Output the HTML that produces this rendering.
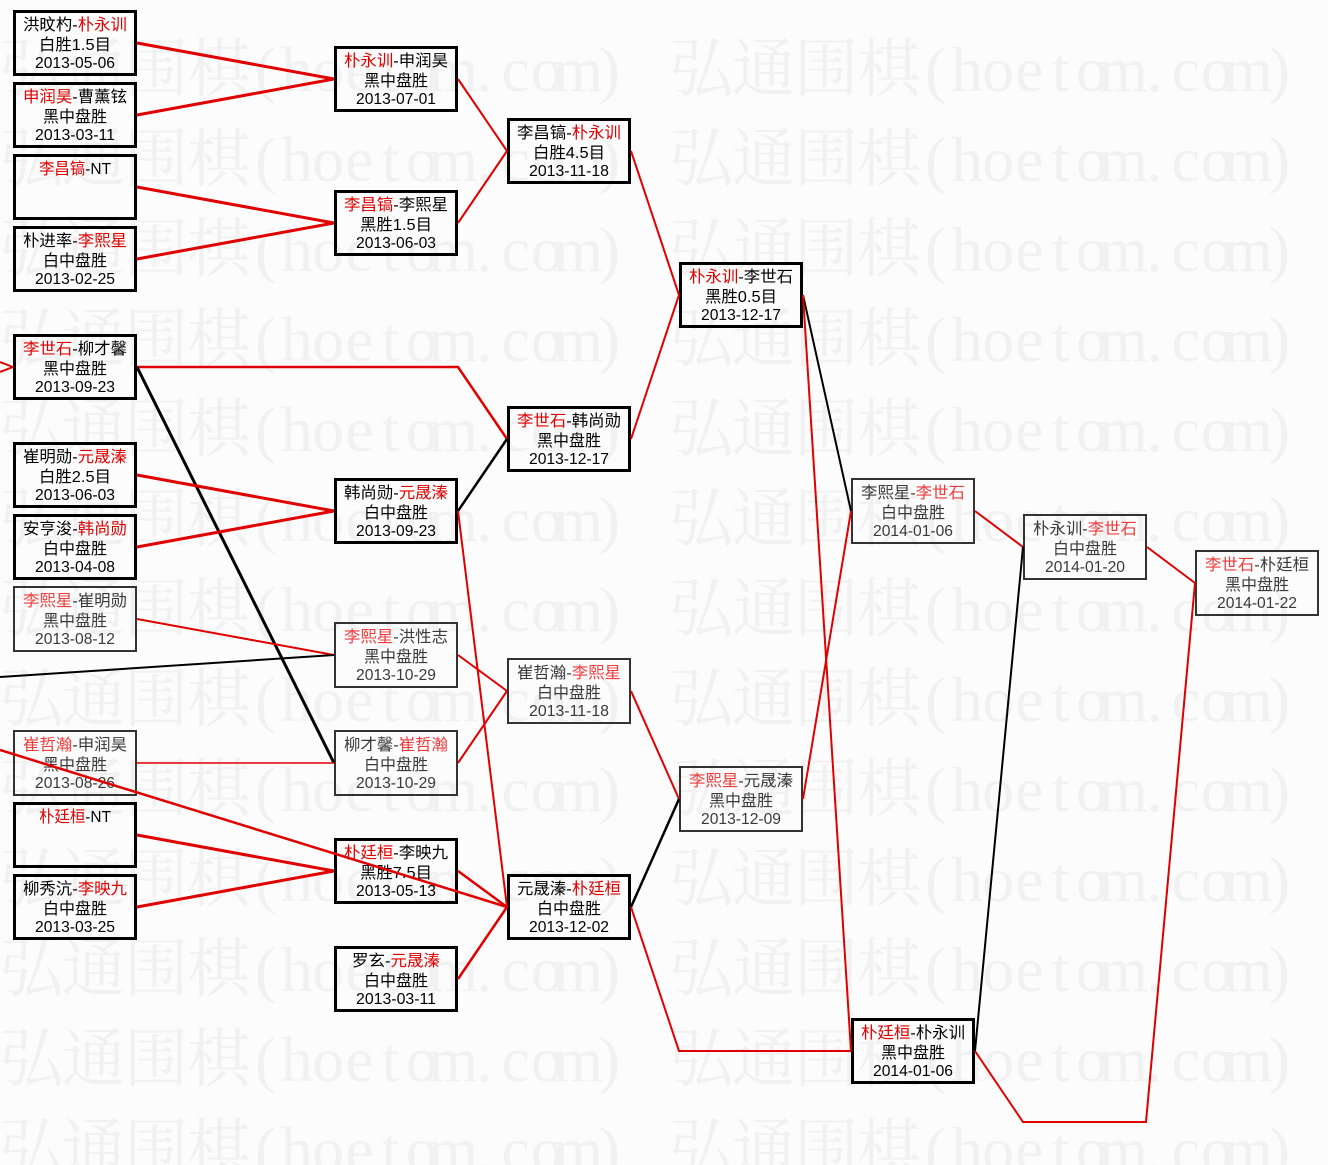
<!DOCTYPE html>
<html>
<head>
<meta charset="utf-8">
<style>
html,body{margin:0;padding:0;background:#fcfcfc;}
body{width:1328px;height:1165px;overflow:hidden;}
svg{display:block;}
.wm{font-family:"Liberation Serif","Noto Serif CJK SC",serif;font-size:64px;fill:#f1f1f1;}
.bx{font-family:"Liberation Sans","Noto Sans CJK SC",sans-serif;font-size:16px;}
.k{fill:#000;}
.g{fill:#3a3a3a;}
.r{fill:#e00000;}
.rl{fill:#ee3b3b;}
</style>
</head>
<body>
<svg width="1328" height="1165" viewBox="0 0 1328 1165" xmlns="http://www.w3.org/2000/svg">
<rect x="0" y="0" width="1328" height="1165" fill="#fcfcfc"/>
<g class="wm" text-anchor="middle">
<text y="91" x="31.25 93.75 156.25 218.75 265.6 296.9 328.1 359.4 390.6 421.9 453.1 484.4 515.6 546.9 578.1 609.4 701.25 763.75 826.25 888.75 935.6 966.9 998.1 1029.4 1060.6 1091.9 1123.1 1154.4 1185.6 1216.9 1248.1 1279.4">弘通围棋(hoetom.com)弘通围棋(hoetom.com)</text>
<text y="181" x="31.25 93.75 156.25 218.75 265.6 296.9 328.1 359.4 390.6 421.9 453.1 484.4 515.6 546.9 578.1 609.4 701.25 763.75 826.25 888.75 935.6 966.9 998.1 1029.4 1060.6 1091.9 1123.1 1154.4 1185.6 1216.9 1248.1 1279.4">弘通围棋(hoetom.com)弘通围棋(hoetom.com)</text>
<text y="271" x="31.25 93.75 156.25 218.75 265.6 296.9 328.1 359.4 390.6 421.9 453.1 484.4 515.6 546.9 578.1 609.4 701.25 763.75 826.25 888.75 935.6 966.9 998.1 1029.4 1060.6 1091.9 1123.1 1154.4 1185.6 1216.9 1248.1 1279.4">弘通围棋(hoetom.com)弘通围棋(hoetom.com)</text>
<text y="361" x="31.25 93.75 156.25 218.75 265.6 296.9 328.1 359.4 390.6 421.9 453.1 484.4 515.6 546.9 578.1 609.4 701.25 763.75 826.25 888.75 935.6 966.9 998.1 1029.4 1060.6 1091.9 1123.1 1154.4 1185.6 1216.9 1248.1 1279.4">弘通围棋(hoetom.com)弘通围棋(hoetom.com)</text>
<text y="451" x="31.25 93.75 156.25 218.75 265.6 296.9 328.1 359.4 390.6 421.9 453.1 484.4 515.6 546.9 578.1 609.4 701.25 763.75 826.25 888.75 935.6 966.9 998.1 1029.4 1060.6 1091.9 1123.1 1154.4 1185.6 1216.9 1248.1 1279.4">弘通围棋(hoetom.com)弘通围棋(hoetom.com)</text>
<text y="541" x="31.25 93.75 156.25 218.75 265.6 296.9 328.1 359.4 390.6 421.9 453.1 484.4 515.6 546.9 578.1 609.4 701.25 763.75 826.25 888.75 935.6 966.9 998.1 1029.4 1060.6 1091.9 1123.1 1154.4 1185.6 1216.9 1248.1 1279.4">弘通围棋(hoetom.com)弘通围棋(hoetom.com)</text>
<text y="631" x="31.25 93.75 156.25 218.75 265.6 296.9 328.1 359.4 390.6 421.9 453.1 484.4 515.6 546.9 578.1 609.4 701.25 763.75 826.25 888.75 935.6 966.9 998.1 1029.4 1060.6 1091.9 1123.1 1154.4 1185.6 1216.9 1248.1 1279.4">弘通围棋(hoetom.com)弘通围棋(hoetom.com)</text>
<text y="721" x="31.25 93.75 156.25 218.75 265.6 296.9 328.1 359.4 390.6 421.9 453.1 484.4 515.6 546.9 578.1 609.4 701.25 763.75 826.25 888.75 935.6 966.9 998.1 1029.4 1060.6 1091.9 1123.1 1154.4 1185.6 1216.9 1248.1 1279.4">弘通围棋(hoetom.com)弘通围棋(hoetom.com)</text>
<text y="811" x="31.25 93.75 156.25 218.75 265.6 296.9 328.1 359.4 390.6 421.9 453.1 484.4 515.6 546.9 578.1 609.4 701.25 763.75 826.25 888.75 935.6 966.9 998.1 1029.4 1060.6 1091.9 1123.1 1154.4 1185.6 1216.9 1248.1 1279.4">弘通围棋(hoetom.com)弘通围棋(hoetom.com)</text>
<text y="901" x="31.25 93.75 156.25 218.75 265.6 296.9 328.1 359.4 390.6 421.9 453.1 484.4 515.6 546.9 578.1 609.4 701.25 763.75 826.25 888.75 935.6 966.9 998.1 1029.4 1060.6 1091.9 1123.1 1154.4 1185.6 1216.9 1248.1 1279.4">弘通围棋(hoetom.com)弘通围棋(hoetom.com)</text>
<text y="991" x="31.25 93.75 156.25 218.75 265.6 296.9 328.1 359.4 390.6 421.9 453.1 484.4 515.6 546.9 578.1 609.4 701.25 763.75 826.25 888.75 935.6 966.9 998.1 1029.4 1060.6 1091.9 1123.1 1154.4 1185.6 1216.9 1248.1 1279.4">弘通围棋(hoetom.com)弘通围棋(hoetom.com)</text>
<text y="1081" x="31.25 93.75 156.25 218.75 265.6 296.9 328.1 359.4 390.6 421.9 453.1 484.4 515.6 546.9 578.1 609.4 701.25 763.75 826.25 888.75 935.6 966.9 998.1 1029.4 1060.6 1091.9 1123.1 1154.4 1185.6 1216.9 1248.1 1279.4">弘通围棋(hoetom.com)弘通围棋(hoetom.com)</text>
<text y="1171" x="31.25 93.75 156.25 218.75 265.6 296.9 328.1 359.4 390.6 421.9 453.1 484.4 515.6 546.9 578.1 609.4 701.25 763.75 826.25 888.75 935.6 966.9 998.1 1029.4 1060.6 1091.9 1123.1 1154.4 1185.6 1216.9 1248.1 1279.4">弘通围棋(hoetom.com)弘通围棋(hoetom.com)</text>
</g>

<!-- boxes -->
<g fill="none" stroke="#000" stroke-width="3">
<rect x="14.5" y="11.5" width="121" height="63"/>
<rect x="14.5" y="83.5" width="121" height="63"/>
<rect x="14.5" y="155.5" width="121" height="63"/>
<rect x="14.5" y="227.5" width="121" height="63"/>
<rect x="14.5" y="335.5" width="121" height="63"/>
<rect x="14.5" y="443.5" width="121" height="63"/>
<rect x="14.5" y="515.5" width="121" height="63"/>
<rect x="14.5" y="803.5" width="121" height="63"/>
<rect x="14.5" y="875.5" width="121" height="63"/>
<rect x="335.5" y="47.5" width="121" height="63"/>
<rect x="335.5" y="191.5" width="121" height="63"/>
<rect x="335.5" y="479.5" width="121" height="63"/>
<rect x="335.5" y="839.5" width="121" height="63"/>
<rect x="335.5" y="947.5" width="121" height="63"/>
<rect x="508.5" y="119.5" width="121" height="63"/>
<rect x="508.5" y="407.5" width="121" height="63"/>
<rect x="508.5" y="875.5" width="121" height="63"/>
<rect x="680.5" y="263.5" width="121" height="63"/>
<rect x="852.5" y="1019.5" width="121" height="63"/>
</g>
<g fill="none" stroke="#333" stroke-width="2">
<rect x="14" y="587" width="122" height="64"/>
<rect x="14" y="731" width="122" height="64"/>
<rect x="335" y="623" width="122" height="64"/>
<rect x="335" y="731" width="122" height="64"/>
<rect x="508" y="659" width="122" height="64"/>
<rect x="680" y="767" width="122" height="64"/>
<rect x="852" y="479" width="122" height="64"/>
<rect x="1024" y="515" width="122" height="64"/>
<rect x="1196" y="551" width="122" height="64"/>
</g>

<!-- text: thick boxes -->
<g class="bx k">
<text x="23" y="30" textLength="104" lengthAdjust="spacingAndGlyphs">洪旼杓-<tspan class="r">朴永训</tspan></text>
<text x="39" y="50" textLength="72" lengthAdjust="spacingAndGlyphs">白胜1.5目</text>
<text x="35" y="68" textLength="80" lengthAdjust="spacingAndGlyphs">2013-05-06</text>

<text x="23" y="102" textLength="104" lengthAdjust="spacingAndGlyphs"><tspan class="r">申润昊</tspan>-曹薰铉</text>
<text x="43" y="122" textLength="64" lengthAdjust="spacingAndGlyphs">黑中盘胜</text>
<text x="35" y="140" textLength="80" lengthAdjust="spacingAndGlyphs">2013-03-11</text>

<text x="39" y="174" textLength="72" lengthAdjust="spacingAndGlyphs"><tspan class="r">李昌镐</tspan>-NT</text>

<text x="23" y="246" textLength="104" lengthAdjust="spacingAndGlyphs">朴进率-<tspan class="r">李熙星</tspan></text>
<text x="43" y="266" textLength="64" lengthAdjust="spacingAndGlyphs">白中盘胜</text>
<text x="35" y="284" textLength="80" lengthAdjust="spacingAndGlyphs">2013-02-25</text>

<text x="23" y="354" textLength="104" lengthAdjust="spacingAndGlyphs"><tspan class="r">李世石</tspan>-柳才馨</text>
<text x="43" y="374" textLength="64" lengthAdjust="spacingAndGlyphs">黑中盘胜</text>
<text x="35" y="392" textLength="80" lengthAdjust="spacingAndGlyphs">2013-09-23</text>

<text x="23" y="462" textLength="104" lengthAdjust="spacingAndGlyphs">崔明勋-<tspan class="r">元晟溱</tspan></text>
<text x="39" y="482" textLength="72" lengthAdjust="spacingAndGlyphs">白胜2.5目</text>
<text x="35" y="500" textLength="80" lengthAdjust="spacingAndGlyphs">2013-06-03</text>

<text x="23" y="534" textLength="104" lengthAdjust="spacingAndGlyphs">安亨浚-<tspan class="r">韩尚勋</tspan></text>
<text x="43" y="554" textLength="64" lengthAdjust="spacingAndGlyphs">白中盘胜</text>
<text x="35" y="572" textLength="80" lengthAdjust="spacingAndGlyphs">2013-04-08</text>

<text x="39" y="822" textLength="72" lengthAdjust="spacingAndGlyphs"><tspan class="r">朴廷桓</tspan>-NT</text>

<text x="23" y="894" textLength="104" lengthAdjust="spacingAndGlyphs">柳秀沆-<tspan class="r">李映九</tspan></text>
<text x="43" y="914" textLength="64" lengthAdjust="spacingAndGlyphs">白中盘胜</text>
<text x="35" y="932" textLength="80" lengthAdjust="spacingAndGlyphs">2013-03-25</text>

<text x="344" y="66" textLength="104" lengthAdjust="spacingAndGlyphs"><tspan class="r">朴永训</tspan>-申润昊</text>
<text x="364" y="86" textLength="64" lengthAdjust="spacingAndGlyphs">黑中盘胜</text>
<text x="356" y="104" textLength="80" lengthAdjust="spacingAndGlyphs">2013-07-01</text>

<text x="344" y="210" textLength="104" lengthAdjust="spacingAndGlyphs"><tspan class="r">李昌镐</tspan>-李熙星</text>
<text x="360" y="230" textLength="72" lengthAdjust="spacingAndGlyphs">黑胜1.5目</text>
<text x="356" y="248" textLength="80" lengthAdjust="spacingAndGlyphs">2013-06-03</text>

<text x="344" y="498" textLength="104" lengthAdjust="spacingAndGlyphs">韩尚勋-<tspan class="r">元晟溱</tspan></text>
<text x="364" y="518" textLength="64" lengthAdjust="spacingAndGlyphs">白中盘胜</text>
<text x="356" y="536" textLength="80" lengthAdjust="spacingAndGlyphs">2013-09-23</text>

<text x="344" y="858" textLength="104" lengthAdjust="spacingAndGlyphs"><tspan class="r">朴廷桓</tspan>-李映九</text>
<text x="360" y="878" textLength="72" lengthAdjust="spacingAndGlyphs">黑胜7.5目</text>
<text x="356" y="896" textLength="80" lengthAdjust="spacingAndGlyphs">2013-05-13</text>

<text x="352" y="966" textLength="88" lengthAdjust="spacingAndGlyphs">罗玄-<tspan class="r">元晟溱</tspan></text>
<text x="364" y="986" textLength="64" lengthAdjust="spacingAndGlyphs">白中盘胜</text>
<text x="356" y="1004" textLength="80" lengthAdjust="spacingAndGlyphs">2013-03-11</text>

<text x="517" y="138" textLength="104" lengthAdjust="spacingAndGlyphs">李昌镐-<tspan class="r">朴永训</tspan></text>
<text x="533" y="158" textLength="72" lengthAdjust="spacingAndGlyphs">白胜4.5目</text>
<text x="529" y="176" textLength="80" lengthAdjust="spacingAndGlyphs">2013-11-18</text>

<text x="517" y="426" textLength="104" lengthAdjust="spacingAndGlyphs"><tspan class="r">李世石</tspan>-韩尚勋</text>
<text x="537" y="446" textLength="64" lengthAdjust="spacingAndGlyphs">黑中盘胜</text>
<text x="529" y="464" textLength="80" lengthAdjust="spacingAndGlyphs">2013-12-17</text>

<text x="517" y="894" textLength="104" lengthAdjust="spacingAndGlyphs">元晟溱-<tspan class="r">朴廷桓</tspan></text>
<text x="537" y="914" textLength="64" lengthAdjust="spacingAndGlyphs">白中盘胜</text>
<text x="529" y="932" textLength="80" lengthAdjust="spacingAndGlyphs">2013-12-02</text>

<text x="689" y="282" textLength="104" lengthAdjust="spacingAndGlyphs"><tspan class="r">朴永训</tspan>-李世石</text>
<text x="705" y="302" textLength="72" lengthAdjust="spacingAndGlyphs">黑胜0.5目</text>
<text x="701" y="320" textLength="80" lengthAdjust="spacingAndGlyphs">2013-12-17</text>

<text x="861" y="1038" textLength="104" lengthAdjust="spacingAndGlyphs"><tspan class="r">朴廷桓</tspan>-朴永训</text>
<text x="881" y="1058" textLength="64" lengthAdjust="spacingAndGlyphs">黑中盘胜</text>
<text x="873" y="1076" textLength="80" lengthAdjust="spacingAndGlyphs">2014-01-06</text>
</g>

<!-- text: thin boxes -->
<g class="bx g">
<text x="23" y="606" textLength="104" lengthAdjust="spacingAndGlyphs"><tspan class="rl">李熙星</tspan>-崔明勋</text>
<text x="43" y="626" textLength="64" lengthAdjust="spacingAndGlyphs">黑中盘胜</text>
<text x="35" y="644" textLength="80" lengthAdjust="spacingAndGlyphs">2013-08-12</text>

<text x="23" y="750" textLength="104" lengthAdjust="spacingAndGlyphs"><tspan class="rl">崔哲瀚</tspan>-申润昊</text>
<text x="43" y="770" textLength="64" lengthAdjust="spacingAndGlyphs">黑中盘胜</text>
<text x="35" y="788" textLength="80" lengthAdjust="spacingAndGlyphs">2013-08-26</text>

<text x="344" y="642" textLength="104" lengthAdjust="spacingAndGlyphs"><tspan class="rl">李熙星</tspan>-洪性志</text>
<text x="364" y="662" textLength="64" lengthAdjust="spacingAndGlyphs">黑中盘胜</text>
<text x="356" y="680" textLength="80" lengthAdjust="spacingAndGlyphs">2013-10-29</text>

<text x="344" y="750" textLength="104" lengthAdjust="spacingAndGlyphs">柳才馨-<tspan class="rl">崔哲瀚</tspan></text>
<text x="364" y="770" textLength="64" lengthAdjust="spacingAndGlyphs">白中盘胜</text>
<text x="356" y="788" textLength="80" lengthAdjust="spacingAndGlyphs">2013-10-29</text>

<text x="517" y="678" textLength="104" lengthAdjust="spacingAndGlyphs">崔哲瀚-<tspan class="rl">李熙星</tspan></text>
<text x="537" y="698" textLength="64" lengthAdjust="spacingAndGlyphs">白中盘胜</text>
<text x="529" y="716" textLength="80" lengthAdjust="spacingAndGlyphs">2013-11-18</text>

<text x="689" y="786" textLength="104" lengthAdjust="spacingAndGlyphs"><tspan class="rl">李熙星</tspan>-元晟溱</text>
<text x="709" y="806" textLength="64" lengthAdjust="spacingAndGlyphs">黑中盘胜</text>
<text x="701" y="824" textLength="80" lengthAdjust="spacingAndGlyphs">2013-12-09</text>

<text x="861" y="498" textLength="104" lengthAdjust="spacingAndGlyphs">李熙星-<tspan class="rl">李世石</tspan></text>
<text x="881" y="518" textLength="64" lengthAdjust="spacingAndGlyphs">白中盘胜</text>
<text x="873" y="536" textLength="80" lengthAdjust="spacingAndGlyphs">2014-01-06</text>

<text x="1033" y="534" textLength="104" lengthAdjust="spacingAndGlyphs">朴永训-<tspan class="rl">李世石</tspan></text>
<text x="1053" y="554" textLength="64" lengthAdjust="spacingAndGlyphs">白中盘胜</text>
<text x="1045" y="572" textLength="80" lengthAdjust="spacingAndGlyphs">2014-01-20</text>

<text x="1205" y="570" textLength="104" lengthAdjust="spacingAndGlyphs"><tspan class="rl">李世石</tspan>-朴廷桓</text>
<text x="1225" y="590" textLength="64" lengthAdjust="spacingAndGlyphs">黑中盘胜</text>
<text x="1217" y="608" textLength="80" lengthAdjust="spacingAndGlyphs">2014-01-22</text>
</g>

<!-- connector lines -->
<g fill="none" stroke-linejoin="miter">
<line x1="137" y1="43" x2="334" y2="79" stroke="#e00000" stroke-width="3"/>
<line x1="137" y1="115" x2="334" y2="79" stroke="#e00000" stroke-width="3"/>
<line x1="137" y1="187" x2="334" y2="223" stroke="#e00000" stroke-width="3"/>
<line x1="137" y1="259" x2="334" y2="223" stroke="#e00000" stroke-width="3"/>
<polyline points="137,367 458,367 507,439" stroke="#e00000" stroke-width="2.5"/>
<line x1="137" y1="367" x2="334" y2="763" stroke="#000" stroke-width="3"/>
<line x1="0" y1="362" x2="13" y2="367" stroke="#e00000" stroke-width="2"/>
<line x1="0" y1="372" x2="13" y2="367" stroke="#e00000" stroke-width="2"/>
<line x1="137" y1="475" x2="334" y2="511" stroke="#e00000" stroke-width="3"/>
<line x1="137" y1="547" x2="334" y2="511" stroke="#e00000" stroke-width="3"/>
<line x1="137" y1="619" x2="334" y2="655" stroke="#e00000" stroke-width="2"/>
<line x1="0" y1="677" x2="334" y2="655" stroke="#000" stroke-width="2"/>
<line x1="137" y1="763" x2="334" y2="763" stroke="#e00000" stroke-width="1.5"/>
<line x1="0" y1="750" x2="507" y2="907" stroke="#e00000" stroke-width="2.5"/>
<line x1="137" y1="835" x2="334" y2="871" stroke="#e00000" stroke-width="3"/>
<line x1="137" y1="907" x2="334" y2="871" stroke="#e00000" stroke-width="3"/>
<line x1="458" y1="79" x2="507" y2="151" stroke="#e00000" stroke-width="2"/>
<line x1="458" y1="223" x2="507" y2="151" stroke="#e00000" stroke-width="2"/>
<line x1="458" y1="511" x2="507" y2="439" stroke="#000" stroke-width="2.5"/>
<line x1="458" y1="511" x2="507" y2="907" stroke="#e00000" stroke-width="2"/>
<line x1="458" y1="655" x2="507" y2="691" stroke="#e00000" stroke-width="2"/>
<line x1="458" y1="763" x2="507" y2="691" stroke="#e00000" stroke-width="2"/>
<line x1="458" y1="871" x2="507" y2="907" stroke="#e00000" stroke-width="2.5"/>
<line x1="458" y1="979" x2="507" y2="907" stroke="#e00000" stroke-width="2.5"/>
<line x1="631" y1="151" x2="679" y2="295" stroke="#e00000" stroke-width="2"/>
<line x1="631" y1="439" x2="679" y2="295" stroke="#e00000" stroke-width="2"/>
<line x1="631" y1="691" x2="679" y2="799" stroke="#e00000" stroke-width="2"/>
<line x1="631" y1="907" x2="679" y2="799" stroke="#000" stroke-width="2.5"/>
<polyline points="631,907 679,1051 851,1051" stroke="#e00000" stroke-width="2"/>
<line x1="803" y1="295" x2="851" y2="511" stroke="#000" stroke-width="2"/>
<line x1="803" y1="295" x2="851" y2="1051" stroke="#e00000" stroke-width="2"/>
<line x1="803" y1="799" x2="851" y2="511" stroke="#e00000" stroke-width="2"/>
<line x1="975" y1="511" x2="1023" y2="547" stroke="#e00000" stroke-width="2"/>
<line x1="975" y1="1051" x2="1023" y2="547" stroke="#000" stroke-width="2"/>
<polyline points="975,1051 1023,1122 1146,1122 1195,583" stroke="#e00000" stroke-width="2"/>
<line x1="1147" y1="547" x2="1195" y2="583" stroke="#e00000" stroke-width="2"/>
</g>
</svg>
</body>
</html>
